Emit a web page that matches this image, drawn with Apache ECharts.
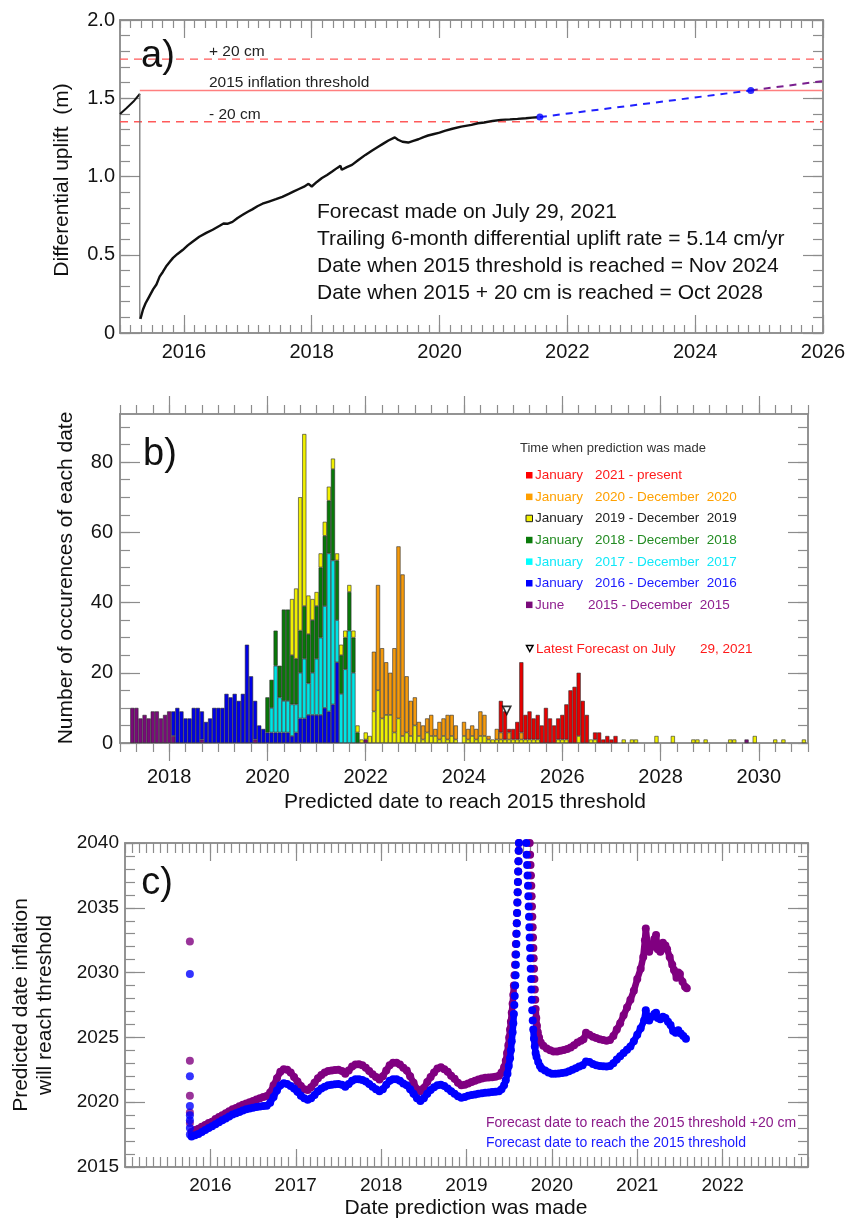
<!DOCTYPE html>
<html>
<head>
<meta charset="utf-8">
<script src="https://cdn.jsdelivr.net/npm/echarts@6/dist/echarts.min.js"></script>
<style>
  html, body { margin: 0; padding: 0; background: #ffffff; }
  #chart { width: 856px; height: 1222px; }
</style>
</head>
<body>
<div id="chart"></div>
<script>
// ---------- a) differential uplift (decimal year, metres) ----------
const upliftBefore = [[2015.0, 1.40], [2015.1, 1.436], [2015.21, 1.479], [2015.31, 1.528]];
const upliftReset = [[2015.31, 1.528], [2015.31, 0.09]];
const upliftAfter = [
  [2015.32, 0.09], [2015.36, 0.15], [2015.40, 0.19], [2015.44, 0.22], [2015.48, 0.25], [2015.52, 0.28],
  [2015.57, 0.31], [2015.62, 0.36], [2015.67, 0.39], [2015.73, 0.43], [2015.78, 0.455], [2015.83, 0.48],
  [2015.90, 0.505], [2015.98, 0.53], [2016.06, 0.56], [2016.14, 0.585], [2016.24, 0.615], [2016.35, 0.64],
  [2016.45, 0.66], [2016.56, 0.685], [2016.62, 0.70], [2016.68, 0.698], [2016.76, 0.71], [2016.84, 0.735],
  [2016.92, 0.755], [2017.00, 0.775], [2017.07, 0.79], [2017.15, 0.81], [2017.23, 0.826], [2017.33, 0.84],
  [2017.44, 0.855], [2017.54, 0.87], [2017.64, 0.889], [2017.72, 0.905], [2017.80, 0.92], [2017.88, 0.935],
  [2017.95, 0.953], [2018.00, 0.936], [2018.08, 0.965], [2018.16, 0.99], [2018.24, 1.01], [2018.32, 1.032],
  [2018.40, 1.055], [2018.45, 1.068], [2018.47, 1.043], [2018.55, 1.06], [2018.63, 1.074], [2018.73, 1.105],
  [2018.84, 1.138], [2018.94, 1.165], [2019.04, 1.19], [2019.12, 1.21], [2019.20, 1.23], [2019.30, 1.25],
  [2019.35, 1.235], [2019.42, 1.222], [2019.51, 1.217], [2019.59, 1.228], [2019.67, 1.238], [2019.75, 1.252],
  [2019.82, 1.262], [2019.90, 1.27], [2020.00, 1.28], [2020.08, 1.291], [2020.20, 1.305], [2020.34, 1.319],
  [2020.50, 1.33], [2020.60, 1.34], [2020.70, 1.345], [2020.83, 1.355], [2020.96, 1.362], [2021.10, 1.365],
  [2021.22, 1.368], [2021.35, 1.372], [2021.45, 1.376], [2021.53, 1.379]
];
const forecastStart = [2021.57, 1.38];   // July 29, 2021
const thresholdReached = [2024.87, 1.55]; // Nov 2024
const forecastEnd = [2026.0, 1.61];
const levelPlus20 = 1.75;
const levelThreshold = 1.55;
const levelMinus20 = 1.35;
const forecastLines = [
  'Forecast made on July 29, 2021',
  'Trailing 6-month differential uplift rate = 5.14 cm/yr',
  'Date when 2015 threshold is reached = Nov 2024',
  'Date when 2015 + 20 cm is reached = Oct 2028'
];

// ---------- b) monthly histogram of predicted dates ----------
// bin k is centred on 2017.25 + k/12; entries are [bin, count]
const binFirstCentre = 2017.25;
const binCount = 165;
const countsJun2015 = [[0,10],[1,10],[2,7],[3,8],[4,7],[5,9],[6,9],[7,7],[8,8],[9,9],[10,2],[17,1],[30,1],[57,1],[150,1]];
const counts2016 = [[10,7],[11,10],[12,9],[13,7],[14,7],[15,10],[16,10],[17,8],[18,6],[19,7],[20,10],[21,10],[22,10],
  [23,14],[24,13],[25,14],[26,12],[27,14],[28,28],[29,19],[30,11],[31,5],[32,4],[33,3],[34,3],[35,3],[36,3],[37,3],
  [38,3],[39,2],[40,3],[41,7],[42,7],[43,8],[44,8],[45,8],[46,8],[47,10],[48,9],[49,11],[50,23]];
const counts2017 = [[34,7],[35,19],[36,10],[37,9],[38,9],[39,9],[40,8],[41,13],[42,17],[43,9],[44,12],[45,16],[46,22],
  [47,29],[48,45],[49,41],[50,12],[51,14],[52,21],[53,32],[54,20]];
const counts2018 = [[33,10],[34,8],[35,10],[36,9],[37,26],[38,26],[39,14],[40,13],[41,12],[42,15],[43,14],[44,15],
  [45,15],[46,20],[47,20],[48,15],[49,26],[50,17],[51,11],[52,9],[53,11],[54,10],[55,3]];
const counts2019 = [[39,16],[40,20],[41,38],[42,49],[43,11],[44,6],[45,4],[46,4],[47,4],[48,4],[49,3],[50,2],[51,3],
  [52,2],[53,2],[54,2],[55,2],[56,1],[57,2],[58,2],[59,9],[60,15],[61,7],[62,8],[63,8],[64,3],[65,7],[66,2],[67,3],
  [68,2],[69,5],[70,2],[71,1],[72,3],[73,2],[74,2],[75,1],[76,2],[77,1],[78,2],[79,1],[81,2],[82,1],[83,2],[84,1],
  [85,2],[86,2],[87,1],[88,1],[89,1],[90,1],[91,1],[92,1],[93,1],[94,1],[95,1],[96,1],[97,1],[98,1],[99,1],[104,1],
  [105,1],[106,1],[109,2],[112,1],[113,1],[120,1],[122,1],[123,1],[128,2],[132,2],[137,1],[138,1],[140,1],[146,1],
  [147,1],[152,2],[157,1],[159,1],[164,1]];
const counts2020 = [[59,17],[60,30],[61,20],[62,15],[63,12],[64,24],[65,49],[66,46],[67,16],[68,10],[69,8],[70,4],
  [71,4],[72,4],[73,6],[74,2],[75,5],[76,5],[77,7],[78,6],[79,4],[81,4],[82,3],[83,3],[84,3],[85,7],[86,6],[87,1],
  [89,3],[90,2],[92,2],[95,2]];
const counts2021 = [[90,9],[91,8],[92,1],[93,3],[94,5],[95,20],[96,7],[97,8],[98,6],[99,7],[100,5],[101,10],[102,7],
  [103,5],[104,6],[105,7],[106,10],[107,15],[108,16],[109,18],[110,12],[111,8],[113,2],[114,3],[115,1],[116,2],
  [117,1],[118,2]];
const latestForecastMark = [2024.87, 9.3];

const periodNames = ['June 2015 - December 2015', 'January 2016 - December 2016', 'January 2017 - December 2017',
  'January 2018 - December 2018', 'January 2019 - December 2019', 'January 2020 - December 2020', 'January 2021 - present'];

// ---------- c) predicted date vs. date the prediction was made ----------
const firstForecastYear = 2015.76;
const firstForecastsPlus20 = [2032.4, 2023.2, 2020.5, 2019.2, 2018.4];
const firstForecastsBase = [2029.9, 2022.0, 2019.7, 2019.0, 2018.6, 2018.0, 2017.5];
const predictedPlus20 = [
  [2015.78,2017.7],[2015.82,2017.85],[2015.86,2017.95],[2015.90,2018.1],[2015.94,2018.25],[2015.98,2018.4],
  [2016.02,2018.5],[2016.06,2018.7],[2016.10,2018.85],[2016.14,2019.0],[2016.18,2019.15],[2016.22,2019.3],
  [2016.26,2019.45],[2016.30,2019.55],[2016.34,2019.68],[2016.38,2019.8],[2016.42,2019.9],[2016.46,2020.0],
  [2016.50,2020.1],[2016.54,2020.2],[2016.58,2020.3],[2016.62,2020.4],[2016.66,2020.47],[2016.70,2020.75],
  [2016.74,2021.3],[2016.78,2021.85],[2016.82,2022.35],[2016.86,2022.55],[2016.90,2022.5],[2016.94,2022.3],
  [2016.98,2021.95],[2017.02,2021.6],[2017.06,2021.25],[2017.10,2021.0],[2017.14,2020.95],[2017.18,2021.15],
  [2017.22,2021.5],[2017.26,2021.85],[2017.30,2022.1],[2017.34,2022.3],[2017.38,2022.4],[2017.42,2022.45],
  [2017.46,2022.48],[2017.50,2022.5],[2017.54,2022.4],[2017.58,2022.2],[2017.62,2022.45],[2017.66,2022.75],
  [2017.70,2022.9],[2017.74,2022.92],[2017.78,2022.85],[2017.82,2022.65],[2017.86,2022.4],[2017.90,2022.15],
  [2017.94,2021.95],[2017.98,2021.75],[2018.02,2022.0],[2018.06,2022.45],[2018.10,2022.85],[2018.14,2023.05],
  [2018.18,2023.05],[2018.22,2022.9],[2018.26,2022.65],[2018.30,2022.45],[2018.34,2022.0],[2018.38,2021.5],
  [2018.42,2021.0],[2018.46,2020.85],[2018.50,2021.1],[2018.54,2021.55],[2018.58,2021.95],[2018.62,2022.3],
  [2018.66,2022.6],[2018.70,2022.7],[2018.74,2022.55],[2018.78,2022.35],[2018.82,2022.05],[2018.86,2021.8],
  [2018.90,2021.5],[2018.94,2021.3],[2018.98,2021.35],[2019.02,2021.45],[2019.06,2021.55],[2019.10,2021.65],
  [2019.14,2021.75],[2019.18,2021.82],[2019.22,2021.88],[2019.26,2021.9],[2019.30,2021.93],[2019.34,2021.97],
  [2019.38,2022.05],[2019.41,2022.3],[2019.44,2022.7],[2019.46,2023.2],[2019.475,2023.8],[2019.49,2024.4],
  [2019.50,2025.0],[2019.51,2025.6],[2019.52,2026.2],[2019.53,2026.9],[2019.54,2027.6],[2019.548,2028.3],
  [2019.555,2029.0],[2019.562,2029.8],[2019.568,2030.6],[2019.573,2031.4],[2019.578,2032.2],[2019.583,2033.0],
  [2019.588,2033.8],[2019.592,2034.6],[2019.596,2035.4],[2019.600,2036.2],[2019.603,2037.0],[2019.606,2037.8],
  [2019.609,2038.6],[2019.612,2039.4],[2019.615,2040.0],
  [2019.740,2040.0],[2019.745,2039.1],[2019.750,2038.3],[2019.755,2037.5],[2019.759,2036.7],[2019.763,2035.9],
  [2019.767,2035.1],[2019.771,2034.3],[2019.775,2033.5],[2019.779,2032.7],[2019.783,2031.9],[2019.787,2031.1],
  [2019.791,2030.3],[2019.795,2029.5],[2019.800,2028.7],[2019.805,2027.9],[2019.810,2027.2],[2019.817,2026.5],
  [2019.825,2025.9],[2019.835,2025.4],[2019.85,2025.0],[2019.87,2024.6],[2019.90,2024.35],[2019.94,2024.15],
  [2019.98,2024.0],[2020.02,2023.92],[2020.06,2023.92],[2020.10,2023.97],
  [2020.14,2024.02],[2020.18,2024.1],[2020.22,2024.22],[2020.26,2024.4],[2020.30,2024.6],[2020.34,2024.75],
  [2020.37,2024.85],[2020.40,2025.35],[2020.44,2025.2],[2020.48,2025.05],[2020.52,2024.95],[2020.56,2024.85],
  [2020.60,2024.8],[2020.64,2024.75],[2020.68,2024.8],[2020.72,2025.1],[2020.76,2025.6],[2020.80,2026.1],
  [2020.84,2026.7],[2020.88,2027.3],[2020.92,2027.9],[2020.96,2028.6],[2021.00,2029.5],[2021.04,2030.3],
  [2021.07,2031.2],[2021.09,2032.5],[2021.10,2033.4],[2021.12,2032.2],[2021.14,2031.6],[2021.17,2032.0],
  [2021.20,2032.6],[2021.22,2032.9],[2021.24,2031.8],[2021.27,2031.6],[2021.30,2032.3],[2021.33,2032.1],
  [2021.35,2031.8],[2021.38,2031.2],[2021.41,2030.6],[2021.43,2030.2],[2021.46,2029.6],[2021.48,2030.0],
  [2021.50,2029.9],[2021.53,2029.3],[2021.56,2028.9],[2021.58,2028.8]
];
const predictedBase = [
  [2015.78,2017.35],[2015.82,2017.45],[2015.86,2017.55],[2015.90,2017.7],[2015.94,2017.85],[2015.98,2018.0],
  [2016.02,2018.15],[2016.06,2018.3],[2016.10,2018.45],[2016.14,2018.6],[2016.18,2018.75],[2016.22,2018.9],
  [2016.26,2019.05],[2016.30,2019.15],[2016.34,2019.25],[2016.38,2019.35],[2016.42,2019.45],[2016.46,2019.52],
  [2016.50,2019.58],[2016.54,2019.63],[2016.58,2019.67],[2016.62,2019.7],[2016.66,2019.72],[2016.70,2019.95],
  [2016.74,2020.4],[2016.78,2020.9],[2016.82,2021.3],[2016.86,2021.47],[2016.90,2021.4],[2016.94,2021.25],
  [2016.98,2021.05],[2017.02,2020.8],[2017.06,2020.5],[2017.10,2020.3],[2017.14,2020.18],[2017.18,2020.3],
  [2017.22,2020.55],[2017.26,2020.85],[2017.30,2021.05],[2017.34,2021.2],[2017.38,2021.3],[2017.42,2021.35],
  [2017.46,2021.38],[2017.50,2021.4],[2017.54,2021.35],[2017.58,2021.2],[2017.62,2021.4],[2017.66,2021.65],
  [2017.70,2021.77],[2017.74,2021.78],[2017.78,2021.72],[2017.82,2021.6],[2017.86,2021.4],[2017.90,2021.2],
  [2017.94,2021.0],[2017.98,2020.85],[2018.02,2021.0],[2018.06,2021.35],[2018.10,2021.65],[2018.14,2021.78],
  [2018.18,2021.77],[2018.22,2021.65],[2018.26,2021.45],[2018.30,2021.3],[2018.34,2021.0],[2018.38,2020.65],
  [2018.42,2020.3],[2018.46,2020.1],[2018.50,2020.3],[2018.54,2020.65],[2018.58,2020.95],[2018.62,2021.15],
  [2018.66,2021.3],[2018.70,2021.34],[2018.74,2021.25],[2018.78,2021.05],[2018.82,2020.85],[2018.86,2020.65],
  [2018.90,2020.45],[2018.94,2020.35],[2018.98,2020.4],[2019.02,2020.5],[2019.06,2020.55],[2019.10,2020.6],
  [2019.14,2020.65],[2019.18,2020.7],[2019.22,2020.72],[2019.26,2020.75],[2019.30,2020.78],[2019.34,2020.8],
  [2019.38,2020.85],[2019.41,2021.0],[2019.44,2021.3],[2019.46,2021.7],[2019.48,2022.2],[2019.495,2022.8],
  [2019.51,2023.4],[2019.52,2024.0],[2019.53,2024.7],[2019.54,2025.4],[2019.548,2026.1],[2019.555,2026.8],
  [2019.560,2027.5],[2019.565,2028.2],[2019.570,2029.0],[2019.575,2029.8],[2019.578,2030.6],[2019.581,2031.4],
  [2019.584,2032.2],[2019.587,2033.0],[2019.590,2033.8],[2019.593,2034.6],[2019.596,2035.4],[2019.599,2036.2],
  [2019.602,2037.0],[2019.605,2037.8],[2019.608,2038.6],[2019.611,2039.4],[2019.614,2040.0],
  [2019.700,2040.0],[2019.705,2039.1],[2019.710,2038.3],[2019.715,2037.5],[2019.720,2036.7],[2019.724,2035.9],
  [2019.728,2035.1],[2019.732,2034.3],[2019.736,2033.5],[2019.740,2032.7],[2019.744,2031.9],[2019.748,2031.1],
  [2019.752,2030.3],[2019.756,2029.5],[2019.760,2028.7],[2019.765,2027.9],[2019.770,2027.1],[2019.776,2026.3],
  [2019.782,2025.6],[2019.79,2024.9],[2019.80,2024.3],[2019.81,2023.8],[2019.82,2023.5],[2019.84,2023.1],
  [2019.86,2022.8],[2019.88,2022.6],[2019.92,2022.45],[2019.96,2022.3],[2020.00,2022.2],[2020.04,2022.2],
  [2020.08,2022.22],[2020.12,2022.25],[2020.16,2022.3],[2020.20,2022.38],[2020.24,2022.5],[2020.28,2022.62],
  [2020.32,2022.75],[2020.36,2022.85],[2020.40,2023.15],[2020.44,2023.1],[2020.48,2022.95],[2020.52,2022.85],
  [2020.56,2022.8],[2020.60,2022.78],[2020.64,2022.75],[2020.68,2022.8],[2020.72,2023.0],[2020.76,2023.3],
  [2020.80,2023.55],[2020.84,2023.8],[2020.88,2024.05],[2020.92,2024.3],[2020.96,2024.7],[2021.00,2025.2],
  [2021.04,2025.7],[2021.08,2026.3],[2021.10,2027.1],[2021.12,2026.6],[2021.14,2026.3],[2021.17,2026.6],
  [2021.20,2026.8],[2021.22,2026.9],[2021.24,2026.5],[2021.27,2026.4],[2021.30,2026.6],[2021.33,2026.5],
  [2021.36,2026.2],[2021.39,2025.95],[2021.42,2025.5],[2021.45,2025.35],[2021.48,2025.55],[2021.51,2025.3],
  [2021.54,2025.1],[2021.57,2024.9]
];

// ---------- helpers ----------
function steps(a, b, step) {
  const out = [];
  const n = Math.round((b - a) / step);
  for (let i = 0; i <= n; i++) out.push(+(a + i * step).toFixed(6));
  return out;
}
const AXIS_GRAY = '#8c8c8c';
const LABEL_FONT = "'Liberation Sans', Arial, sans-serif";

function axis(grid, position, min, max, ticks, len, inside, label) {
  const o = {
    type: 'value', gridIndex: grid, position: position, min: min, max: max,
    axisLine: { show: true, onZero: false, lineStyle: { color: AXIS_GRAY, width: 1.5 } },
    axisTick: { show: true, inside: inside, length: len, customValues: ticks,
                lineStyle: { color: AXIS_GRAY, width: 1.2 } },
    splitLine: { show: false },
    axisLabel: { show: false }
  };
  if (label) {
    o.axisLabel = {
      show: true, customValues: label.values, formatter: label.format,
      margin: label.margin, fontSize: label.size, fontFamily: LABEL_FONT, color: '#141414'
    };
  }
  return o;
}

// sparse [bin, count] pairs -> dense per-bin values ('-' where empty)
function toBins(pairs) {
  const arr = [];
  for (let k = 0; k < binCount; k++) arr.push('-');
  pairs.forEach(function (p) { arr[p[0]] = p[1]; });
  return arr;
}
// the band joining consecutive forecasts is interrupted on the near-vertical flanks
// (where the daily forecasts separate into single dots) and where the curve leaves the plot
function withBreaks(points, gapX, minJump, maxSlope) {
  const out = [];
  points.forEach(function (p, i) {
    if (i > 0) {
      const q = points[i - 1];
      const dx = p[0] - q[0], dy = Math.abs(p[1] - q[1]);
      if (dx > gapX || (dy > minJump && dy / dx > maxSlope)) out.push([(p[0] + q[0]) / 2, '-']);
    }
    out.push(p);
  });
  return out;
}

const xAxes = [], yAxes = [];
// grid 0 : panel a  (x axes 0-3, y axes 0-3)
xAxes.push(axis(0, 'bottom', 2015, 2026, steps(2016, 2026, 2), 18, true,
  { values: steps(2016, 2026, 2), format: function (v) { return String(Math.round(v)); }, margin: 9, size: 20 }));
xAxes.push(axis(0, 'bottom', 2015, 2026, steps(2015, 2026, 1 / 6), 8, true));
xAxes.push(axis(0, 'top', 2015, 2026, steps(2016, 2026, 2), 18, true));
xAxes.push(axis(0, 'top', 2015, 2026, steps(2015, 2026, 1 / 6), 8, true));
yAxes.push(axis(0, 'left', 0, 2, steps(0, 2, 0.5), 20, true,
  { values: steps(0, 2, 0.5), format: function (v) { return v === 0 ? '0' : v.toFixed(1); }, margin: 5, size: 20 }));
yAxes.push(axis(0, 'left', 0, 2, steps(0, 2, 0.1), 10, true));
yAxes.push(axis(0, 'right', 0, 2, steps(0, 2, 0.5), 20, true));
yAxes.push(axis(0, 'right', 0, 2, steps(0, 2, 0.1), 10, true));
// grid 1 : panel b frame, ticks and labels  (axes 4-7)
const B_MAX = 93.7;
xAxes.push(axis(1, 'bottom', 2017, 2031, steps(2018, 2030, 2), 18, false,
  { values: steps(2018, 2030, 2), format: function (v) { return String(Math.round(v)); }, margin: 24, size: 20 }));
xAxes.push(axis(1, 'bottom', 2017, 2031, steps(2017, 2031, 1 / 3), 9, false));
xAxes.push(axis(1, 'top', 2017, 2031, steps(2018, 2030, 2), 18, false));
xAxes.push(axis(1, 'top', 2017, 2031, steps(2017, 2031, 1 / 3), 9, false));
yAxes.push(axis(1, 'left', 0, B_MAX, steps(0, 80, 20), 20, true,
  { values: steps(0, 80, 20), format: function (v) { return String(v); }, margin: 7, size: 20 }));
yAxes.push(axis(1, 'left', 0, B_MAX, steps(0, 90, 5), 10, true));
yAxes.push(axis(1, 'right', 0, B_MAX, steps(0, 80, 20), 20, true));
yAxes.push(axis(1, 'right', 0, B_MAX, steps(0, 90, 5), 10, true));
// grid 2 : panel c  (axes 8-11)
xAxes.push(axis(2, 'bottom', 2015, 2023, steps(2016, 2022, 1), 18, true,
  { values: steps(2016, 2022, 1), format: function (v) { return String(Math.round(v)); }, margin: 9, size: 19 }));
xAxes.push(axis(2, 'bottom', 2015, 2023, steps(2015, 2023, 1 / 12), 10, true));
xAxes.push(axis(2, 'top', 2015, 2023, steps(2016, 2022, 1), 18, true));
xAxes.push(axis(2, 'top', 2015, 2023, steps(2015, 2023, 1 / 12), 10, true));
yAxes.push(axis(2, 'left', 2015, 2040, steps(2015, 2040, 5), 20, true,
  { values: steps(2015, 2040, 5), format: function (v) { return String(Math.round(v)); }, margin: 6, size: 19 }));
yAxes.push(axis(2, 'left', 2015, 2040, steps(2015, 2040, 1), 10, true));
yAxes.push(axis(2, 'right', 2015, 2040, steps(2015, 2040, 5), 20, true));
yAxes.push(axis(2, 'right', 2015, 2040, steps(2015, 2040, 1), 10, true));
// grid 3 : panel b histogram bins, one category per month, aligned with the year scale of grid 1 (axis 12)
const B_LEFT = 120, B_WIDTH = 688, B_YEARS = 14;
const binPx = B_WIDTH / B_YEARS / 12;
const binGridLeft = B_LEFT + (binFirstCentre - 2017) * B_WIDTH / B_YEARS - binPx / 2;
const binLabels = [];
for (let k = 0; k < binCount; k++) binLabels.push((binFirstCentre + k / 12).toFixed(3));
xAxes.push({ type: 'category', gridIndex: 3, data: binLabels, boundaryGap: true,
  axisLine: { show: false }, axisTick: { show: false }, axisLabel: { show: false }, splitLine: { show: false } });
yAxes.push({ type: 'value', gridIndex: 3, min: 0, max: B_MAX,
  axisLine: { show: false }, axisTick: { show: false }, axisLabel: { show: false }, splitLine: { show: false } });
const BIN_AXIS = 12;

// ---------- series ----------
const series = [];
function lineA(data, color, width, dash) {
  series.push({
    type: 'line', xAxisIndex: 0, yAxisIndex: 0, data: data, showSymbol: false, symbol: 'none',
    lineStyle: { color: color, width: width, type: dash || 'solid' }, z: 3, silent: true
  });
}
lineA([[2015, levelPlus20], [2026, levelPlus20]], '#ff5a5a', 1.3, [8, 6]);
lineA([[2015.31, levelThreshold], [2026, levelThreshold]], '#ff7f7f', 1.6);
lineA([[2015, levelMinus20], [2026, levelMinus20]], '#ff5a5a', 1.3, [8, 6]);
lineA(upliftBefore, '#111111', 2);
lineA(upliftReset, '#6e6e6e', 1.2);
lineA(upliftAfter, '#111111', 2.4);
lineA([forecastStart, thresholdReached], '#2020ff', 2, [7, 6]);
lineA([thresholdReached, forecastEnd], '#7a1f8f', 2, [7, 6]);
series.push({
  type: 'scatter', xAxisIndex: 0, yAxisIndex: 0, data: [forecastStart, thresholdReached],
  symbolSize: 7, itemStyle: { color: '#0000ff' }, z: 4
});

const barColors = ['#7a0a7a', '#0000e6', '#00e5e5', '#087808', '#f0f000', '#f59a0c', '#e80000'];
const periodCounts = [countsJun2015, counts2016, counts2017, counts2018, counts2019, counts2020, counts2021];
periodCounts.forEach(function (pairs, i) {
  series.push({
    type: 'bar', name: periodNames[i], xAxisIndex: BIN_AXIS, yAxisIndex: BIN_AXIS, stack: 'period',
    data: toBins(pairs), barWidth: binPx,
    itemStyle: { color: barColors[i], borderColor: '#2a2a2a', borderWidth: 0.6 }
  });
});
series.push({
  type: 'scatter', xAxisIndex: 4, yAxisIndex: 4, data: [latestForecastMark],
  symbol: 'triangle', symbolRotate: 180, symbolSize: 8,
  itemStyle: { color: '#ffffff', borderColor: '#000000', borderWidth: 1.6 }, z: 5
});

function dottedCurve(points, first, color, z) {
  series.push({
    type: 'line', xAxisIndex: 8, yAxisIndex: 8, data: withBreaks(points, 0.06, 0.5, 100),
    showSymbol: true, symbol: 'circle', symbolSize: 8, connectNulls: false,
    lineStyle: { color: color, width: 6.5, join: 'round', cap: 'round' },
    itemStyle: { color: color }, z: z, silent: true
  });
  series.push({
    type: 'scatter', xAxisIndex: 8, yAxisIndex: 8,
    data: first.map(function (v) { return [firstForecastYear, v]; }),
    symbolSize: 8, itemStyle: { color: color }, z: z
  });
}
dottedCurve(predictedPlus20, firstForecastsPlus20, '#800080', 3);
dottedCurve(predictedBase, firstForecastsBase, '#0000ff', 4);

// ---------- text ----------
const graphic = [];
function text(x, y, str, size, color, opts) {
  opts = opts || {};
  graphic.push({
    type: 'text', x: x, y: y, rotation: opts.rotation || 0, z: 100,
    style: {
      text: str, fill: color, font: (opts.weight || 'normal') + ' ' + size + 'px ' + (opts.family || LABEL_FONT),
      textAlign: opts.align || 'left', textVerticalAlign: 'middle'
    }
  });
}
// panel a
text(158, 57, 'a)', 38, '#111', { align: 'center' });
text(209, 52, '+ 20 cm', 15.5, '#222');
text(209, 83, '2015 inflation threshold', 15.5, '#222');
text(209, 115, '- 20 cm', 15.5, '#222');
forecastLines.forEach(function (s, i) { text(317, 212 + i * 27, s, 21, '#111'); });
text(62, 180, 'Differential uplift  (m)', 21, '#111', { rotation: Math.PI / 2, align: 'center' });

// panel b
text(160, 455, 'b)', 38, '#111', { align: 'center' });
text(66, 578, 'Number of occurences of each date', 21, '#111', { rotation: Math.PI / 2, align: 'center' });
text(465, 802, 'Predicted date to reach 2015 threshold', 21, '#111', { align: 'center' });
text(520, 448, 'Time when prediction was made', 13, '#333');
const legendRows = [
  { sq: '#ff0000', c: '#ff1a1a', a: 'January', b: '2021 - present', bx: 595 },
  { sq: '#ff9f00', c: '#ffa000', a: 'January', b: '2020 - December  2020', bx: 595 },
  { sq: '#f0f000', c: '#222222', a: 'January', b: '2019 - December  2019', bx: 595, edge: '#222' },
  { sq: '#0a7a0a', c: '#238c23', a: 'January', b: '2018 - December  2018', bx: 595 },
  { sq: '#00ffff', c: '#10e8f8', a: 'January', b: '2017 - December  2017', bx: 595 },
  { sq: '#0000ff', c: '#1a1aff', a: 'January', b: '2016 - December  2016', bx: 595 },
  { sq: '#7a0a7a', c: '#8e1e8e', a: 'June', b: '2015 - December  2015', bx: 588 }
];
legendRows.forEach(function (r, i) {
  const y = 475.5 + i * 21.6;
  graphic.push({
    type: 'rect', shape: { x: 526, y: y - 3.5, width: 6.5, height: 6.5 }, z: 100,
    style: { fill: r.sq, stroke: r.edge || null, lineWidth: r.edge ? 1 : 0 }
  });
  text(535, y, r.a, 13.5, r.c);
  text(r.bx, y, r.b, 13.5, r.c);
});
graphic.push({
  type: 'polygon', shape: { points: [[526.5, 645.5], [533, 645.5], [529.75, 651.5]] }, z: 100,
  style: { fill: '#ffffff', stroke: '#000000', lineWidth: 1.5 }
});
text(536, 649, 'Latest Forecast on July', 13.5, '#ff1a1a');
text(700, 649, '29, 2021', 13.5, '#ff1a1a');

// panel c
text(157, 884, 'c)', 38, '#111', { align: 'center' });
text(21, 1005, 'Predicted date inflation', 21, '#111', { rotation: Math.PI / 2, align: 'center' });
text(45, 1005, 'will reach threshold', 21, '#111', { rotation: Math.PI / 2, align: 'center' });
text(466, 1208, 'Date prediction was made', 21, '#111', { align: 'center' });
text(486, 1123, 'Forecast date to reach the 2015 threshold +20 cm', 14, '#8a1a8a');
text(486, 1143, 'Forecast date to reach the 2015 threshold', 14, '#1a1aff');

const chart = echarts.init(document.getElementById('chart'), null, { renderer: 'canvas' });
chart.setOption({
  backgroundColor: '#ffffff',
  animation: false,
  grid: [
    { left: 120, top: 20, width: 703, height: 313, containLabel: false },
    { left: B_LEFT, top: 414, width: B_WIDTH, height: 329, containLabel: false },
    { left: 125, top: 843, width: 683, height: 324, containLabel: false },
    { left: binGridLeft, top: 414, width: binPx * binCount, height: 329, containLabel: false }
  ],
  xAxis: xAxes,
  yAxis: yAxes,
  series: series,
  graphic: graphic
});
</script>
</body>
</html>
